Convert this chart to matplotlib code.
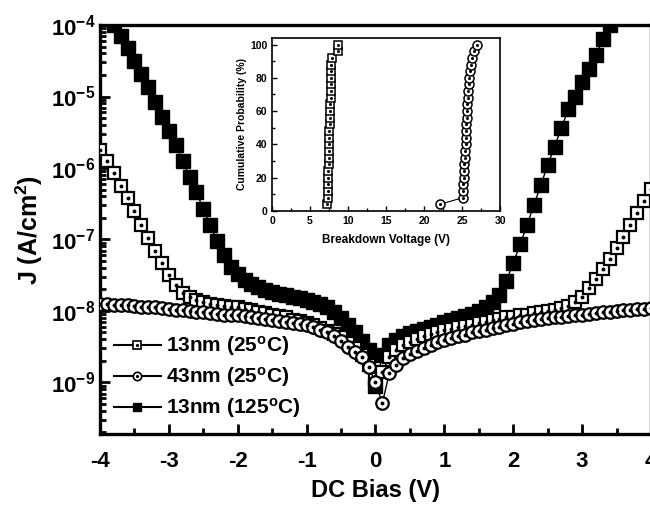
import numpy as np
import matplotlib
matplotlib.use("Agg")
import matplotlib.pyplot as plt
from matplotlib.lines import Line2D
from matplotlib.legend_handler import HandlerTuple
from matplotlib.ticker import LogLocator, MultipleLocator, FuncFormatter, NullFormatter

plt.rcParams['font.family'] = ['Liberation Sans', 'DejaVu Sans']
plt.rcParams['font.weight'] = 'bold'
plt.rcParams['axes.unicode_minus'] = False
plt.rcParams['mathtext.fontset'] = 'custom'
plt.rcParams['mathtext.rm'] = 'Liberation Sans:bold'
plt.rcParams['mathtext.it'] = 'Liberation Sans:bold'
plt.rcParams['mathtext.bf'] = 'Liberation Sans:bold'

# DC bias sweep (V), 0.1 V step
bias = np.linspace(-4, 4, 81)

# log10 of J (A/cm^2)
log_13nm_25C = [
    -5.75, -5.90, -6.07, -6.25, -6.42, -6.60, -6.80, -6.98, -7.16, -7.33,
    -7.50, -7.64, -7.75, -7.81, -7.85, -7.88, -7.90, -7.92, -7.93, -7.94,
    -7.95, -7.97, -7.99, -8.01, -8.03, -8.05, -8.07, -8.09, -8.12, -8.14,
    -8.17, -8.20, -8.24, -8.28, -8.32, -8.37, -8.45, -8.52, -8.62, -8.75,
    -8.95,
    -8.85, -8.65, -8.55, -8.48, -8.43, -8.39, -8.35, -8.32, -8.29, -8.27,
    -8.25, -8.23, -8.21, -8.19, -8.17, -8.15, -8.13, -8.11, -8.09, -8.08,
    -8.06, -8.05, -8.03, -8.02, -8.00, -7.98, -7.96, -7.93, -7.88, -7.80,
    -7.68, -7.55, -7.41, -7.27, -7.12, -6.96, -6.80, -6.63, -6.46, -6.30,
]
log_43nm_25C = [
    -7.90, -7.90, -7.91, -7.91, -7.92, -7.93, -7.94, -7.94, -7.95, -7.96,
    -7.97, -7.98, -7.99, -8.00, -8.01, -8.02, -8.03, -8.04, -8.05, -8.05,
    -8.06, -8.07, -8.08, -8.10, -8.11, -8.12, -8.14, -8.15, -8.17, -8.18,
    -8.20, -8.23, -8.26, -8.30, -8.35, -8.42, -8.50, -8.57, -8.65, -8.78,
    -9.00,
    -9.29, -8.87, -8.75, -8.66, -8.60, -8.56, -8.52, -8.48, -8.44, -8.40,
    -8.38, -8.35, -8.33, -8.30, -8.28, -8.26, -8.24, -8.22, -8.20, -8.18,
    -8.16, -8.14, -8.13, -8.11, -8.10, -8.09, -8.08, -8.07, -8.06, -8.05,
    -8.04, -8.03, -8.02, -8.01, -8.00, -7.99, -7.98, -7.97, -7.97, -7.96,
]
log_13nm_125C = [
    -3.70, -3.85, -4.00, -4.15, -4.32, -4.50, -4.68, -4.87, -5.07, -5.28,
    -5.48, -5.68, -5.90, -6.12, -6.34, -6.57, -6.80, -7.02, -7.22, -7.38,
    -7.48, -7.56, -7.62, -7.67, -7.71, -7.74, -7.76, -7.78, -7.80, -7.82,
    -7.84, -7.87, -7.90, -7.95, -8.02, -8.10, -8.20, -8.30, -8.42, -8.55,
    -9.05,
    -8.62, -8.48, -8.40, -8.35, -8.31, -8.28, -8.25, -8.22, -8.19, -8.16,
    -8.13, -8.10, -8.07, -8.04, -8.00, -7.95, -7.88, -7.77, -7.58, -7.33,
    -7.07, -6.80, -6.52, -6.24, -5.96, -5.70, -5.44, -5.18, -5.00, -4.80,
    -4.62, -4.42, -4.20, -4.00, -3.80, -3.60, -3.40, -3.20, -3.00, -2.80,
]

# inset: cumulative breakdown distribution
prob = [4, 8, 12, 16, 20, 24, 28, 32, 36, 40, 44, 48, 52,
        56, 60, 64, 68, 72, 76, 80, 84, 88, 92, 96, 100]
vbd_13nm = [7.2, 7.3, 7.35, 7.35, 7.4, 7.4, 7.45, 7.45, 7.5, 7.5, 7.55, 7.55, 7.6,
            7.6, 7.65, 7.65, 7.7, 7.7, 7.7, 7.75, 7.75, 7.8, 7.85, 8.65, 8.7]
vbd_43nm = [22.1, 25.1, 25.1, 25.15, 25.2, 25.25, 25.3, 25.35, 25.4, 25.45, 25.5, 25.5, 25.55,
            25.6, 25.65, 25.7, 25.75, 25.8, 25.9, 25.95, 26.05, 26.2, 26.35, 26.6, 26.9]

labels = ['13nm (25$^\\mathregular{o}$C)', '43nm (25$^\\mathregular{o}$C)',
          '13nm (125$^\\mathregular{o}$C)']

fig = plt.figure(figsize=(6.5, 5.12), dpi=100)
ax = fig.add_axes([0.1538, 0.1523, 0.8477, 0.7988])

j1 = 10 ** np.array(log_13nm_25C)
j2 = 10 ** np.array(log_43nm_25C)
j3 = 10 ** np.array(log_13nm_125C)

ax.plot(bias, j3, '-', color='k', lw=1, marker='s', ms=9.5, mfc='k', mec='k', zorder=2)
ax.plot(bias, j1, '-', color='k', lw=1, marker='s', ms=8, mfc='white', mec='k', mew=1.6, zorder=3)
ax.plot(bias, j1, ls='none', marker='o', ms=1.8, mfc='k', mec='k', zorder=3.1)
ax.plot(bias, j2, '-', color='k', lw=1, marker='o', ms=9, mfc='white', mec='k', mew=1.6, zorder=4)
ax.plot(bias, j2, ls='none', marker='o', ms=1.8, mfc='k', mec='k', zorder=4.1)

ax.set_yscale('log')
ax.set_xlim(-4, 4)
ax.set_ylim(1.9e-10, 1e-4)
ax.yaxis.set_major_locator(LogLocator(base=10, numticks=20))
ax.yaxis.set_minor_locator(LogLocator(base=10, subs=np.arange(2, 10), numticks=20))
ax.yaxis.set_minor_formatter(NullFormatter())
ax.yaxis.set_major_formatter(FuncFormatter(lambda v, p: r'$10^{%d}$' % round(np.log10(v))))
ax.xaxis.set_major_locator(MultipleLocator(1))
ax.xaxis.set_minor_locator(MultipleLocator(0.5))
ax.tick_params(which='both', direction='in', width=2, labelsize=16, top=False, right=False)
ax.tick_params(which='major', length=7)
ax.tick_params(which='minor', length=4)
ax.tick_params(axis='x', pad=12)
for s in ax.spines.values():
    s.set_linewidth(2.4)

ax.set_xlabel('DC Bias (V)', fontsize=17, fontweight='bold', labelpad=5)
ax.set_ylabel('J (A/cm$^2$)', fontsize=18, fontweight='bold', labelpad=4)

# legend handles: line + marker (+ centre dot)
h1 = (Line2D([], [], color='k', lw=1.5, marker='s', ms=6, mfc='white', mec='k', mew=1.2),
      Line2D([], [], ls='none', marker='o', ms=1.3, mfc='k', mec='k'))
h2 = (Line2D([], [], color='k', lw=1.5, marker='o', ms=6, mfc='white', mec='k', mew=1.2),
      Line2D([], [], ls='none', marker='o', ms=1.3, mfc='k', mec='k'))
h3 = Line2D([], [], color='k', lw=1.5, marker='s', ms=6, mfc='k', mec='k')
ax.legend([h1, h2, h3], labels, handler_map={tuple: HandlerTuple(ndivide=1, pad=0)},
          loc='lower left', bbox_to_anchor=(0.006, 0.008), frameon=False,
          fontsize=15, handlelength=2.25, handletextpad=0.25, labelspacing=0.34,
          borderpad=0)

# inset
ins = fig.add_axes([0.4185, 0.588, 0.351, 0.338])
ins.plot(vbd_13nm, prob, '-', color='k', lw=0.8, marker='s', ms=5.5, mfc='white', mec='k', mew=1.1)
ins.plot(vbd_13nm, prob, ls='none', marker='o', ms=1.2, mfc='k', mec='k')
ins.plot(vbd_43nm, prob, '-', color='k', lw=0.8, marker='o', ms=6.5, mfc='white', mec='k', mew=1.1)
ins.plot(vbd_43nm, prob, ls='none', marker='o', ms=1.2, mfc='k', mec='k')
ins.set_xlim(0, 30)
ins.set_ylim(0, 104)
ins.xaxis.set_major_locator(MultipleLocator(5))
ins.xaxis.set_minor_locator(MultipleLocator(2.5))
ins.yaxis.set_major_locator(MultipleLocator(20))
ins.yaxis.set_minor_locator(MultipleLocator(10))
ins.tick_params(which='both', direction='in', width=1, labelsize=7.5, top=False, right=False)
ins.tick_params(which='major', length=3.5)
ins.tick_params(which='minor', length=2)
for s in ins.spines.values():
    s.set_linewidth(1.2)
ins.set_xlabel('Breakdown Voltage (V)', fontsize=8.5, fontweight='bold', labelpad=6)
ins.set_ylabel('Cumulative Probability (%)', fontsize=7.5, fontweight='bold', labelpad=2)

fig.savefig('out.png', dpi=100)
